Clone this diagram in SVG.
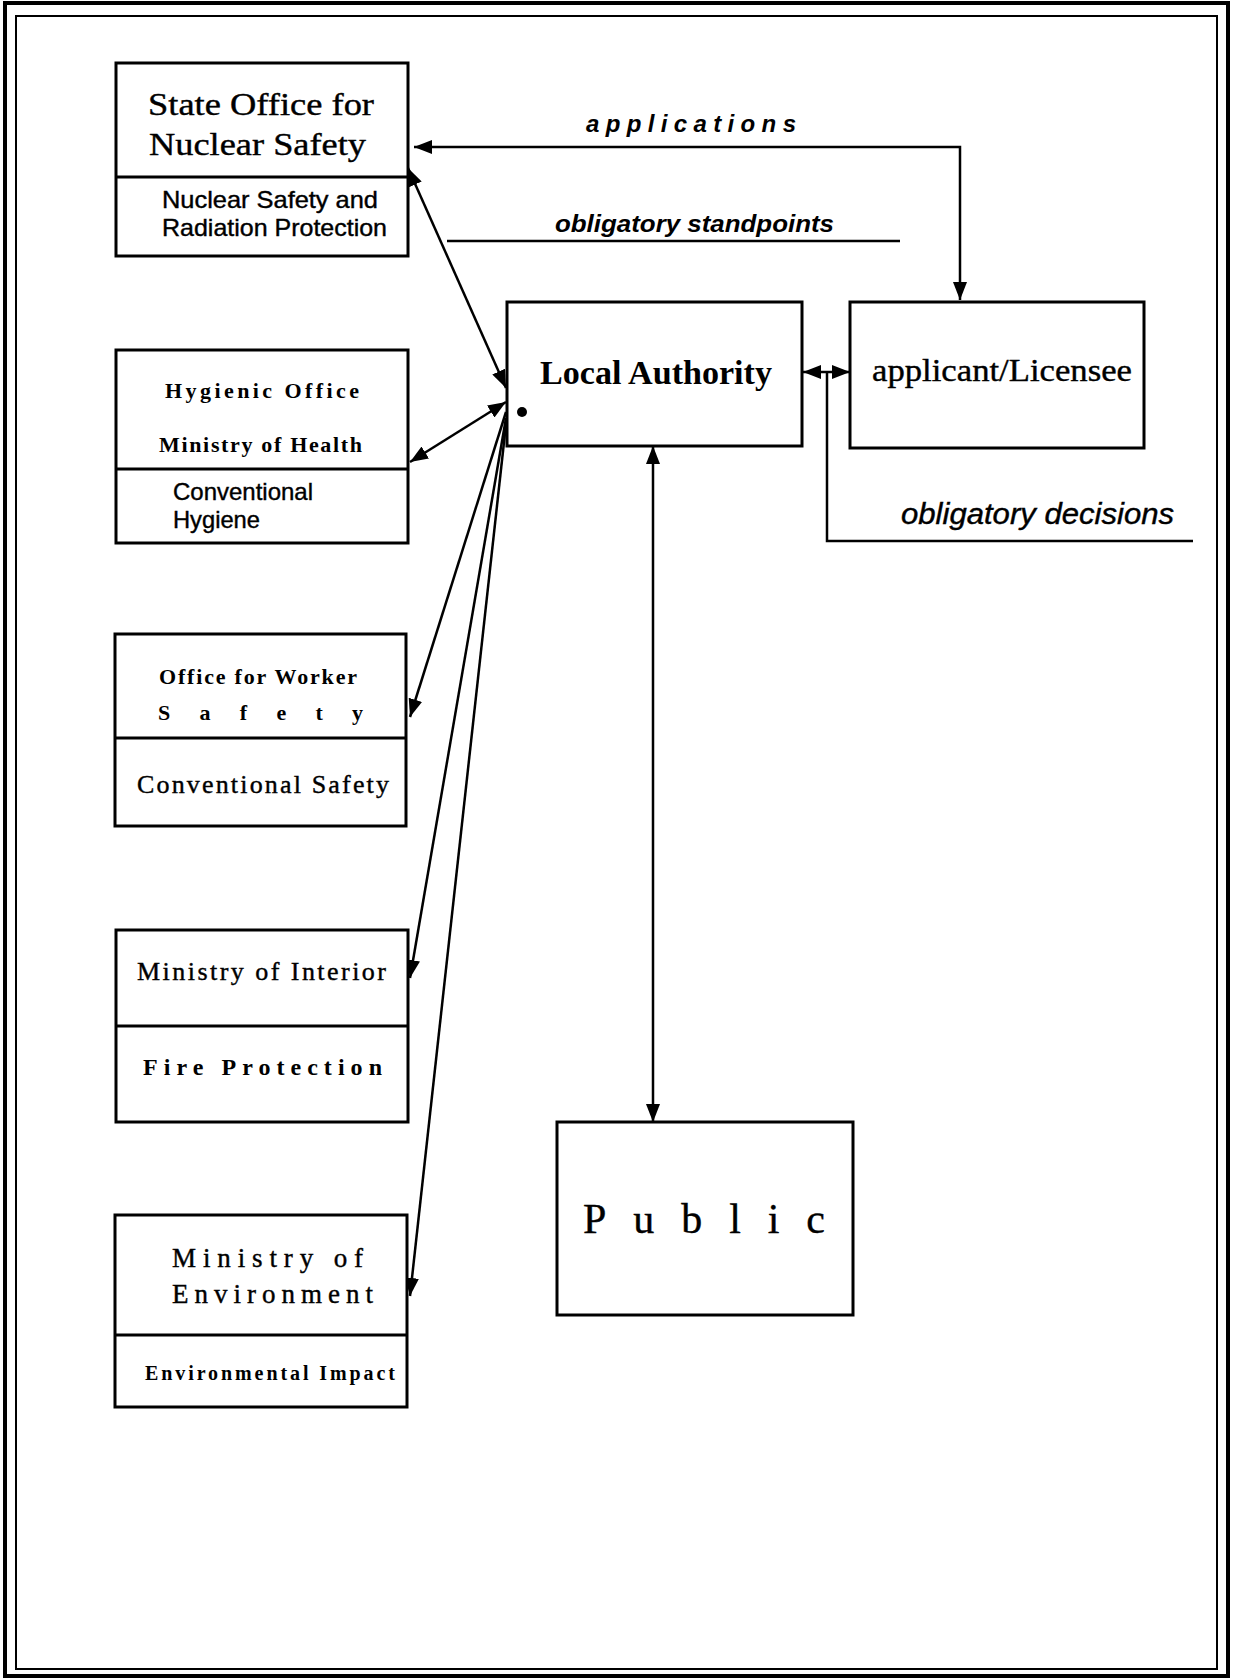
<svg xmlns="http://www.w3.org/2000/svg" width="1233" height="1680" viewBox="0 0 1233 1680">
<style>
.box{fill:#fff;stroke:#000;stroke-width:3}
.div{stroke:#000;stroke-width:3}
.ln{fill:none;stroke:#000;stroke-width:2.5}
.serif{font-family:"Liberation Serif","Times New Roman",serif;fill:#000}
.sans{font-family:"Liberation Sans",Arial,sans-serif;fill:#000}
.b{font-weight:bold}
.i{font-style:italic}
.hv{stroke:#000;stroke-width:0.4}
</style>
<defs>
<marker id="ah" viewBox="0 0 18 14" refX="18" refY="7" markerWidth="18" markerHeight="14" markerUnits="userSpaceOnUse" orient="auto-start-reverse">
<path d="M0,0 L18,7 L0,14 z" fill="#000"/>
</marker>
</defs>
<rect x="5" y="3" width="1223" height="1673" fill="#fff" stroke="#000" stroke-width="4"/>
<rect x="16" y="16" width="1201" height="1653" fill="none" stroke="#000" stroke-width="2"/>

<g id="connectors">
<path class="ln" d="M960,300 V147 H414" marker-start="url(#ah)" marker-end="url(#ah)"/>
<path class="ln" d="M447,241 H900"/>
<path class="ln" d="M408,168 L506,388" marker-start="url(#ah)" marker-end="url(#ah)"/>
<path class="ln" d="M506,402 L410,462" marker-start="url(#ah)" marker-end="url(#ah)"/>
<path class="ln" d="M506,412 L410,717" marker-end="url(#ah)"/>
<path class="ln" d="M506,418 L410,978" marker-end="url(#ah)"/>
<path class="ln" d="M506,424 L410,1296" marker-end="url(#ah)"/>
<path class="ln" d="M803,372 L850,372" marker-start="url(#ah)" marker-end="url(#ah)"/>
<path class="ln" d="M1193,541 H827 V372"/>
<path class="ln" d="M653,446 V1122" marker-start="url(#ah)" marker-end="url(#ah)"/>
<text class="sans b i" x="586" y="132" font-size="24" textLength="210" lengthAdjust="spacing">applications</text>
<text class="sans b i" x="555" y="232" font-size="24" textLength="279" lengthAdjust="spacingAndGlyphs">obligatory standpoints</text>
<text class="sans i hv" x="901" y="524" font-size="29" textLength="273" lengthAdjust="spacingAndGlyphs">obligatory decisions</text>
</g>

<g id="state-office">
<rect class="box" x="116" y="63" width="292" height="193"/>
<line class="div" x1="116" y1="177" x2="408" y2="177"/>
<text class="serif hv" x="148" y="115" font-size="32" textLength="226" lengthAdjust="spacingAndGlyphs">State Office for</text>
<text class="serif hv" x="149" y="155" font-size="32" textLength="217" lengthAdjust="spacingAndGlyphs">Nuclear Safety</text>
<text class="sans hv" x="162" y="208" font-size="24" textLength="216" lengthAdjust="spacingAndGlyphs">Nuclear Safety and</text>
<text class="sans hv" x="162" y="236" font-size="24" textLength="225" lengthAdjust="spacingAndGlyphs">Radiation Protection</text>
</g>

<g id="hygienic-office">
<rect class="box" x="116" y="350" width="292" height="193"/>
<line class="div" x1="116" y1="469" x2="408" y2="469"/>
<text class="serif b" x="165" y="398" font-size="22" textLength="194" lengthAdjust="spacing">Hygienic Office</text>
<text class="serif b" x="159" y="452" font-size="22" textLength="203" lengthAdjust="spacing">Ministry of Health</text>
<text class="sans hv" x="173" y="500" font-size="24" textLength="140" lengthAdjust="spacingAndGlyphs">Conventional</text>
<text class="sans hv" x="173" y="528" font-size="24" textLength="87" lengthAdjust="spacingAndGlyphs">Hygiene</text>
</g>

<g id="worker-safety">
<rect class="box" x="115" y="634" width="291" height="192"/>
<line class="div" x1="115" y1="738" x2="406" y2="738"/>
<text class="serif b" x="159" y="684" font-size="22" textLength="198" lengthAdjust="spacing">Office for Worker</text>
<text class="serif b" x="158" y="720" font-size="22" textLength="205" lengthAdjust="spacing">Safety</text>
<text class="serif hv" x="137" y="793" font-size="26" textLength="252" lengthAdjust="spacing">Conventional Safety</text>
</g>

<g id="ministry-interior">
<rect class="box" x="116" y="930" width="292" height="192"/>
<line class="div" x1="116" y1="1026" x2="408" y2="1026"/>
<text class="serif hv" x="137" y="980" font-size="26" textLength="249" lengthAdjust="spacing">Ministry of Interior</text>
<text class="serif b" x="143" y="1075" font-size="24" textLength="239" lengthAdjust="spacing">Fire Protection</text>
</g>

<g id="ministry-environment">
<rect class="box" x="115" y="1215" width="292" height="192"/>
<line class="div" x1="115" y1="1335" x2="407" y2="1335"/>
<text class="serif hv" x="172" y="1267" font-size="27" textLength="191" lengthAdjust="spacing">Ministry of</text>
<text class="serif hv" x="172" y="1303" font-size="27" textLength="201" lengthAdjust="spacing">Environment</text>
<text class="serif b" x="145" y="1380" font-size="20" textLength="250" lengthAdjust="spacing">Environmental Impact</text>
</g>

<g id="local-authority">
<rect class="box" x="507" y="302" width="295" height="144"/>
<text class="serif b" x="540" y="384" font-size="34" textLength="232" lengthAdjust="spacingAndGlyphs">Local Authority</text>
<circle cx="522" cy="412" r="5" fill="#000"/>
</g>

<g id="applicant">
<rect class="box" x="850" y="302" width="294" height="146"/>
<text class="serif hv" x="872" y="381" font-size="32" textLength="260" lengthAdjust="spacingAndGlyphs">applicant/Licensee</text>
</g>

<g id="public">
<rect class="box" x="557" y="1122" width="296" height="193"/>
<text class="serif hv" x="583" y="1233" font-size="42" textLength="242" lengthAdjust="spacing">Public</text>
</g>
</svg>
